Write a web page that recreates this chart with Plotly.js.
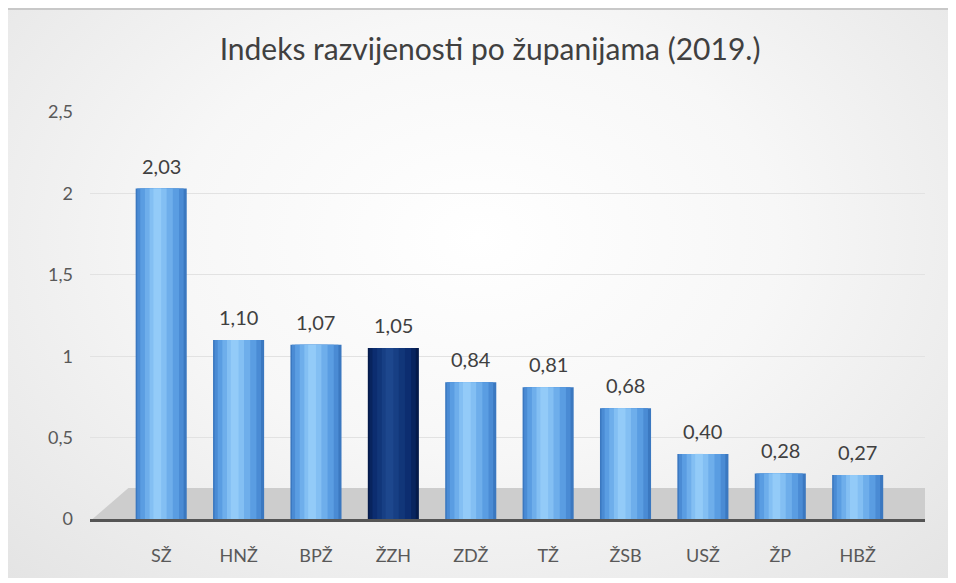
<!DOCTYPE html>
<html>
<head>
<meta charset="utf-8">
<script src="https://cdn.plot.ly/plotly-3.0.1.min.js"></script>
<style>
  html, body { margin: 0; padding: 0; background: #ffffff; }
  #frame {
    position: absolute; left: 8px; top: 8px; width: 940px; height: 568px;
    background: radial-gradient(ellipse at 50% 40%, #ffffff 0%, #f7f7f7 45%, #e4e4e4 100%);
    border-top: 2px solid #c8c8c8;
  }
  #chart { position: absolute; left: 0; top: 0; width: 956px; height: 583px; }
</style>
</head>
<body>
<div id="frame"></div>
<div id="chart"></div>
<script>
  // county codes and development index
  var counties = ['SŽ', 'HNŽ', 'BPŽ', 'ŽZH', 'ZDŽ', 'TŽ', 'ŽSB', 'USŽ', 'ŽP', 'HBŽ'];
  var index2019 = [2.03, 1.10, 1.07, 1.05, 0.84, 0.81, 0.68, 0.40, 0.28, 0.27];
  var highlighted = 'ŽZH';

  function pick(a, b) {
    return counties.map(function (c) { return c === highlighted ? b : a; });
  }

  // a few overlaid bars of shrinking width fake the cylinder shading
  var shades = [
    { w: 0.66, off: -0.33, light: '#3b78c0', dark: '#041a4a' },
    { w: 0.60, off: -0.31, light: '#4a8bd4', dark: '#08245e' },
    { w: 0.50, off: -0.27, light: '#5a9de2', dark: '#0c2d70' },
    { w: 0.36, off: -0.21, light: '#6eaeeb', dark: '#113679' },
    { w: 0.22, off: -0.15, light: '#83bff3', dark: '#173f84' },
    { w: 0.10, off: -0.10, light: '#93cbf8', dark: '#1d478d' }
  ];

  var traces = shades.map(function (s, i) {
    return {
      type: 'bar', x: counties, y: index2019, width: s.w, offset: s.off,
      marker: { color: pick(s.light, s.dark), line: { width: 0 } },
      hoverinfo: i === 0 ? 'x+y' : 'skip'
    };
  });

  // value labels sit a bit higher than plain "outside" text
  var labels = counties.map(function (c, i) {
    return {
      x: c, y: index2019[i], xref: 'x', yref: 'y',
      text: index2019[i].toFixed(2).replace('.', ','),
      showarrow: false, yanchor: 'bottom', yshift: 9,
      font: { family: 'Lato, "Open Sans", sans-serif', size: 20, color: '#404040' }
    };
  });

  var layout = {
    width: 956, height: 583,
    paper_bgcolor: 'rgba(0,0,0,0)',
    plot_bgcolor: 'rgba(0,0,0,0)',
    separators: ',.',
    barmode: 'overlay',
    showlegend: false,
    margin: { l: 90, r: 31, t: 112, b: 64 },
    font: { family: 'Lato, "Open Sans", sans-serif', color: '#595959' },
    title: {
      text: 'Indeks razvijenosti po županijama (2019.)',
      font: { size: 30, color: '#404040' },
      x: 0.5126, xanchor: 'center', y: 0.915, yanchor: 'middle'
    },
    xaxis: {
      range: [-0.92, 9.87],
      showline: true, linecolor: '#555555', linewidth: 3,
      ticks: '', ticklabelstandoff: 18,
      tickfont: { size: 18, color: '#595959' },
      showgrid: false, fixedrange: true
    },
    yaxis: {
      range: [0, 2.5], dtick: 0.5,
      showline: false, zeroline: false,
      gridcolor: '#e2e2e2', gridwidth: 1,
      ticks: '', ticklabelstandoff: 16,
      tickfont: { size: 18, color: '#595959' },
      fixedrange: true
    },
    annotations: labels,
    shapes: [{
      type: 'path', xref: 'paper', yref: 'paper', layer: 'below',
      path: 'M 0.003 0 L 1 0 L 1 0.076 L 0.046 0.076 Z',
      fillcolor: '#cdcdcd', line: { width: 0 }
    }]
  };

  Plotly.newPlot('chart', traces, layout, { displayModeBar: false, staticPlot: true });
</script>
</body>
</html>
